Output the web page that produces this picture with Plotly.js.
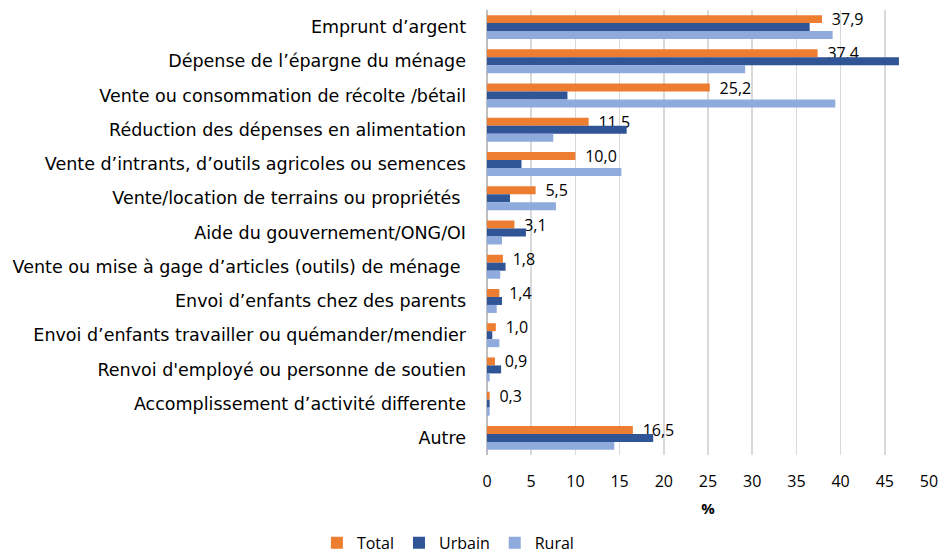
<!DOCTYPE html>
<html>
<head>
<meta charset="utf-8">
<script src="https://cdn.plot.ly/plotly-3.0.1.min.js"></script>
<style>html,body{margin:0;padding:0;background:#fff;}#chart{width:941px;height:555px;}</style>
</head>
<body>
<div id="chart"></div>
<script>
const categories = [
  "Emprunt d’argent",
  "Dépense de l’épargne du ménage",
  "Vente ou consommation de récolte /bétail",
  "Réduction des dépenses en alimentation",
  "Vente d’intrants, d’outils agricoles ou semences",
  "Vente/location de terrains ou propriétés\u00a0",
  "Aide du gouvernement/ONG/OI",
  "Vente ou mise à gage d’articles (outils) de ménage\u00a0",
  "Envoi d’enfants chez des parents",
  "Envoi d’enfants travailler ou quémander/mendier",
  "Renvoi d'employé ou personne de soutien",
  "Accomplissement d’activité differente",
  "Autre"
];
const totalValues  = [37.9, 37.4, 25.2, 11.5, 10.0, 5.5, 3.1, 1.8, 1.4, 1.0, 0.9, 0.3, 16.5];
const urbainValues = [36.5, 46.6, 9.1, 15.8, 3.9, 2.6, 4.4, 2.1, 1.7, 0.6, 1.6, 0.3, 18.8];
const ruralValues  = [39.1, 29.2, 39.4, 7.5, 15.2, 7.8, 1.7, 1.5, 1.1, 1.4, 0.3, 0.3, 14.4];
const seriesNames = ["Total", "Urbain", "Rural"];
const xTicks = [0, 5, 10, 15, 20, 25, 30, 35, 40, 45, 50];

const FONT = "'Open Sans', Lato, sans-serif";
const CAT_FONT = "'DejaVu Sans', 'Open Sans', sans-serif";
const traces = [
  {type: "bar", orientation: "h", name: seriesNames[0], y: categories, x: totalValues,
   marker: {color: "#ED7D31"}, texttemplate: "\u00a0\u2009%{x:.1f}", textposition: "outside",
   constraintext: "none", cliponaxis: false,
   textfont: {family: FONT, size: 16, color: "#000"}, hoverinfo: "x+y"},
  {type: "bar", orientation: "h", name: seriesNames[1], y: categories, x: urbainValues,
   marker: {color: "#2F5597"}, hoverinfo: "x+y"},
  {type: "bar", orientation: "h", name: seriesNames[2], y: categories, x: ruralValues,
   marker: {color: "#8FAADC"}, hoverinfo: "x+y"}
];

const layout = {
  width: 941, height: 555,
  margin: {l: 487, r: 12, t: 10, b: 100, autoexpand: false},
  paper_bgcolor: "#fff", plot_bgcolor: "#fff",
  separators: ", ",
  barmode: "group", bargap: 0.3, bargroupgap: 0,
  font: {family: FONT, size: 15, color: "#000"},
  showlegend: true,
  legend: {orientation: "h", xref: "container", x: 0.476, xanchor: "center",
           yref: "container", y: 0.022, yanchor: "middle",
           font: {family: FONT, size: 16, color: "#000"},
           traceorder: "normal", itemwidth: 30},
  xaxis: {range: [0, 50], tickvals: xTicks, ticktext: xTicks.map(String),
          showgrid: true, gridcolor: "#d9d9d9", gridwidth: 1.5,
          zeroline: true, zerolinecolor: "#bfbfbf", zerolinewidth: 1.5,
          showline: false, ticks: "", ticklabelstandoff: 15,
          tickfont: {family: FONT, size: 16, color: "#000"},
          title: {text: "<b>%</b>", font: {family: FONT, size: 15, color: "#000"}, standoff: 12},
          automargin: false, fixedrange: true},
  yaxis: {autorange: "reversed", type: "category", showgrid: false, zeroline: false,
          ticks: "", ticklabelstandoff: 20, tickfont: {family: CAT_FONT, size: 17.5, color: "#000"},
          automargin: false, fixedrange: true}
};

Plotly.newPlot("chart", traces, layout, {displayModeBar: false, staticPlot: true});
</script>
</body>
</html>
